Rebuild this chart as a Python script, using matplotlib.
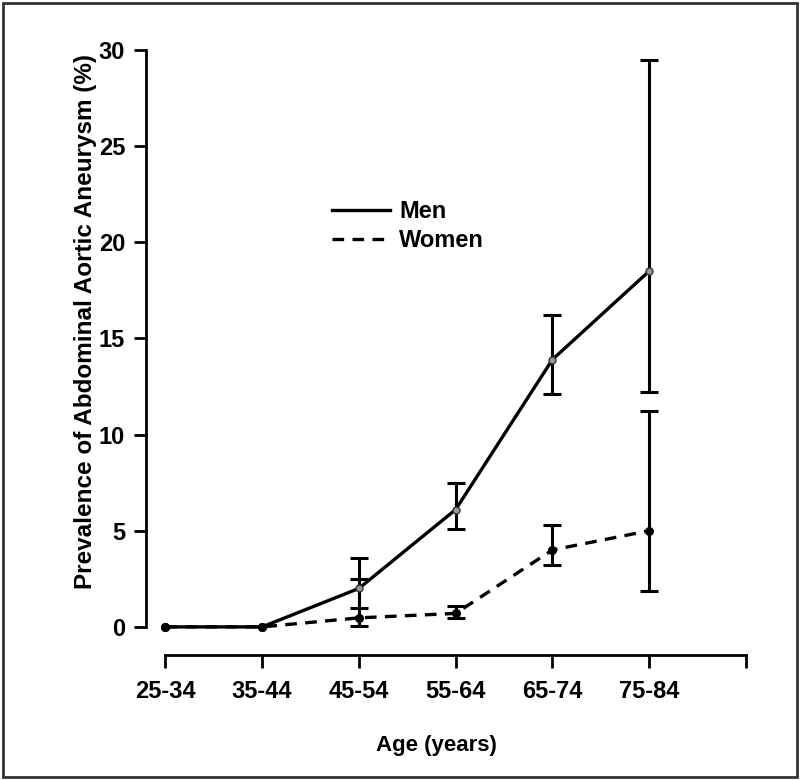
import matplotlib
matplotlib.use("Agg")
import matplotlib.pyplot as plt
from matplotlib.patches import Rectangle
from matplotlib.lines import Line2D

plt.rcParams['font.family'] = ['Liberation Sans', 'DejaVu Sans']
plt.rcParams['font.weight'] = 'bold'

ages = ["25-34", "35-44", "45-54", "55-64", "65-74", "75-84"]
men = [0.0, 0.0, 2.0, 6.1, 13.9, 18.5]
men_lo = [0.0, 0.0, 1.0, 5.1, 12.1, 12.2]
men_hi = [0.0, 0.0, 3.6, 7.5, 16.2, 29.5]
women = [0.0, 0.0, 0.47, 0.7, 4.0, 5.0]
women_lo = [0.0, 0.0, 0.05, 0.45, 3.2, 1.85]
women_hi = [0.0, 0.0, 2.5, 1.1, 5.3, 11.2]

x = list(range(len(ages)))

fig = plt.figure(figsize=(8, 7.8), dpi=100)
ax = fig.add_axes([0.1825, 0.1603, 0.762, 0.788])

# error bars (drawn only where an interval exists)
idx = [i for i in x if men_hi[i] > 0]
ax.errorbar([x[i] for i in idx], [men[i] for i in idx],
            yerr=[[men[i] - men_lo[i] for i in idx], [men_hi[i] - men[i] for i in idx]],
            fmt='none', ecolor='black', elinewidth=2.2, capsize=6.5, capthick=2.2)
ax.errorbar([x[i] for i in idx], [women[i] for i in idx],
            yerr=[[women[i] - women_lo[i] for i in idx], [women_hi[i] - women[i] for i in idx]],
            fmt='none', ecolor='black', elinewidth=2.2, capsize=6.5, capthick=2.2)

dash = (0, (3.5, 2.5))
ax.plot(x, women, color='black', lw=2.4, ls=dash,
        marker='o', markersize=5.5, markerfacecolor='black', zorder=3)
ax.plot(x, men, color='black', lw=2.4, ls='-', zorder=4)
ax.plot(x[:2], men[:2], 'o', color='black', markersize=5.5, zorder=5)
ax.plot(x[2:], men[2:], 'o', markersize=5, markerfacecolor='#999999',
        markeredgecolor='#333333', markeredgewidth=1, zorder=5)

ax.set_xlim(-0.2, 6.1)
ax.set_ylim(-1.46, 30.5)
ax.spines['top'].set_visible(False)
ax.spines['right'].set_visible(False)
ax.spines['left'].set_bounds(0, 30)
ax.spines['bottom'].set_bounds(0, 6)
ax.spines['left'].set_linewidth(2)
ax.spines['bottom'].set_linewidth(2)

ax.set_xticks(x + [6])
ax.set_xticklabels(ages + [""])
ax.set_yticks([0, 5, 10, 15, 20, 25, 30])
ax.tick_params(axis='both', length=9, width=2, labelsize=17, pad=6)
ax.tick_params(axis='x', pad=9)

ax.set_ylabel("Prevalence of Abdominal Aortic Aneurysm (%)", fontsize=17.5,
              fontweight='bold')
ax.yaxis.set_label_coords(-0.08, 0.542)
ax.set_xlabel("Age (years)", fontsize=16, fontweight='bold')
ax.xaxis.set_label_coords(0.477, -0.13)

h_men = Line2D([], [], color='black', lw=2.4, ls='-')
h_women = Line2D([], [], color='black', lw=2.4, ls=dash)
ax.legend([h_men, h_women], ["Men", "Women"], frameon=False,
          loc='upper left', bbox_to_anchor=(0.278, 0.767), fontsize=17,
          handlelength=2.45, handletextpad=0.4, labelspacing=0.25,
          borderaxespad=0.3)

fig.patches.append(Rectangle((0.004, 0.004), 0.992, 0.992, transform=fig.transFigure,
                             fill=False, edgecolor='#333333', lw=2))

fig.savefig("out.png", dpi=100)
